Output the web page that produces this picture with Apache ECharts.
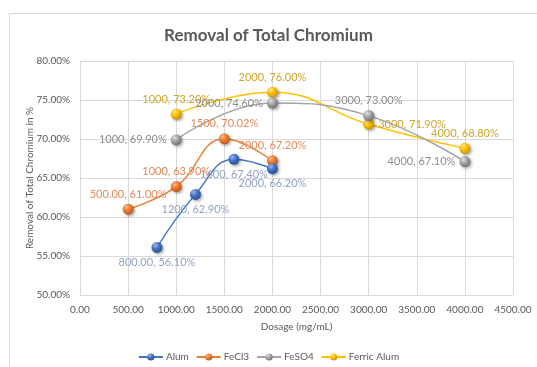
<!DOCTYPE html>
<html>
<head>
<meta charset="utf-8">
<script src="https://cdn.jsdelivr.net/npm/echarts@6/dist/echarts.min.js"></script>
<style>
html,body{margin:0;padding:0;background:#fff;}
#c{width:537px;height:367px;}
</style>
</head>
<body>
<div id="c"></div>
<script>
// ---- data ----
const seriesNames = ['Alum', 'FeCl3', 'FeSO4', 'Ferric Alum'];
const alumX = [800, 1200, 1600, 2000];
const alumY = [56.10, 62.90, 67.40, 66.20];
const alumXText = ['800.00', '1200', '1600', '2000'];
const fecl3X = [500, 1000, 1500, 2000];
const fecl3Y = [61.00, 63.90, 70.02, 67.20];
const fecl3XText = ['500.00', '1000', '1500', '2000'];
const feso4X = [1000, 2000, 3000, 4000];
const feso4Y = [69.90, 74.60, 73.00, 67.10];
const feso4XText = ['1000', '2000', '3000', '4000'];
const ferricX = [1000, 2000, 3000, 4000];
const ferricY = [73.20, 76.00, 71.90, 68.80];
const ferricXText = ['1000', '2000', '3000', '4000'];
const xTicks = [0, 500, 1000, 1500, 2000, 2500, 3000, 3500, 4000, 4500];
const yTicks = [50, 55, 60, 65, 70, 75, 80];

// ---- styles ----
const colors = ['#4472C4', '#ED7D31', '#A5A5A5', '#FFC000'];
const lightColors = ['#9db8ec', '#f9b98a', '#e0e0e0', '#ffe48a'];
const darkColors = ['#2a4f92', '#b9561a', '#6f6f6f', '#c99300'];
const labelColors = ['#8fa2c6', '#e0895a', '#8c8c8c', '#d2a52a'];
const labelPos = [
  ['bottom', 'bottom', 'bottom', 'bottom'],
  ['top', 'top', 'top', 'top'],
  ['left', 'left', 'top', 'left'],
  ['top', 'top', 'right', 'top']
];
const FONT = 'Lato';
const xs = [alumX, fecl3X, feso4X, ferricX];
const ys = [alumY, fecl3Y, feso4Y, ferricY];
const xt = [alumXText, fecl3XText, feso4XText, ferricXText];

function ball(i) {
  return {
    type: 'radial', x: 0.35, y: 0.3, r: 0.75,
    colorStops: [
      { offset: 0, color: lightColors[i] },
      { offset: 0.45, color: colors[i] },
      { offset: 1, color: darkColors[i] }
    ]
  };
}

const series = seriesNames.map((name, i) => ({
  name: name,
  type: 'line',
  smooth: 0.45,
  symbol: 'circle',
  symbolSize: 11,
  lineStyle: { color: colors[i], width: 1.5 },
  itemStyle: {
    color: ball(i), borderWidth: 0,
    shadowColor: 'rgba(0,0,0,0.35)', shadowBlur: 3, shadowOffsetX: 1.5, shadowOffsetY: 1.5
  },
  emphasis: { disabled: true },
  z: 10 - i,
  data: xs[i].map((x, j) => ({
    value: [x, ys[i][j]],
    label: {
      show: true,
      position: labelPos[i][j],
      distance: 4,
      color: labelColors[i],
      fontFamily: FONT,
      fontSize: 11,
      formatter: xt[i][j] + ', ' + ys[i][j].toFixed(2) + '%'
    }
  }))
}));

const chart = echarts.init(document.getElementById('c'), null, { renderer: 'canvas' });
chart.setOption({
  animation: false,
  color: colors,
  title: {
    text: 'Removal of Total Chromium',
    left: 'center', top: 22,
    textStyle: { fontFamily: FONT, fontSize: 17, fontWeight: 'bold', color: '#595959' }
  },
  graphic: [{
    type: 'rect', shape: { x: 9.5, y: 13.5, width: 540, height: 370 },
    style: { fill: 'none', stroke: '#d9d9d9', lineWidth: 1 }, silent: true, z: -1
  }],
  grid: { left: 80, right: 24, top: 61, bottom: 72, containLabel: false },
  legend: {
    bottom: 0, left: 'center',
    itemWidth: 24, itemHeight: 9, itemGap: 7,
    textStyle: { fontFamily: FONT, fontSize: 10, color: '#595959', padding: [0, 0, 0, -2] },
    data: seriesNames
  },
  xAxis: {
    type: 'value', min: xTicks[0], max: xTicks[xTicks.length - 1], interval: xTicks[1] - xTicks[0],
    name: 'Dosage (mg/mL)', nameLocation: 'middle', nameGap: 27, nameMoveOverlap: false,
    nameTextStyle: { fontFamily: FONT, fontSize: 10, color: '#595959' },
    axisLine: { show: true, lineStyle: { color: '#d9d9d9' } },
    axisTick: { show: false },
    axisLabel: { fontFamily: FONT, fontSize: 10, color: '#595959', margin: 10, formatter: v => v.toFixed(2) },
    splitLine: { show: true, lineStyle: { color: '#d9d9d9' } }
  },
  yAxis: {
    type: 'value', min: yTicks[0], max: yTicks[yTicks.length - 1], interval: yTicks[1] - yTicks[0],
    name: 'Removal of Total Chromium in %', nameLocation: 'middle', nameGap: 45, nameMoveOverlap: false,
    nameTextStyle: { fontFamily: FONT, fontSize: 10, color: '#595959' },
    axisLine: { show: false },
    axisTick: { show: false },
    axisLabel: { fontFamily: FONT, fontSize: 10, color: '#595959', margin: 10, formatter: v => v.toFixed(2) + '%' },
    splitLine: { show: true, lineStyle: { color: '#d9d9d9' } }
  },
  series: series
});
</script>
</body>
</html>
